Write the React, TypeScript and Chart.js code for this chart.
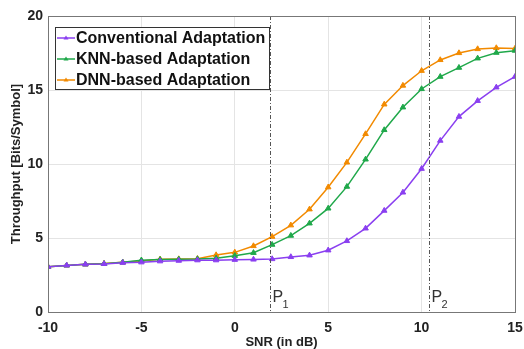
import React, { useEffect, useRef } from "react";
import { Chart, registerables } from "chart.js";

Chart.register(...registerables);

const snr = [-10, -9, -8, -7, -6, -5, -4, -3, -2, -1, 0, 1, 2, 3, 4, 5, 6, 7, 8, 9, 10, 11, 12, 13, 14, 15];
const conventional = [3.06, 3.15, 3.22, 3.25, 3.33, 3.36, 3.43, 3.47, 3.5, 3.5, 3.53, 3.55, 3.58, 3.72, 3.83, 4.17, 4.8, 5.65, 6.85, 8.08, 9.68, 11.58, 13.2, 14.27, 15.18, 15.9];
const knn = [3.06, 3.15, 3.22, 3.26, 3.36, 3.5, 3.54, 3.56, 3.58, 3.63, 3.8, 4.0, 4.55, 5.16, 5.99, 7.0, 8.47, 10.31, 12.3, 13.83, 15.07, 15.9, 16.51, 17.14, 17.52, 17.66];
const dnn = [3.06, 3.15, 3.22, 3.27, 3.36, 3.45, 3.56, 3.58, 3.6, 3.85, 4.03, 4.46, 5.09, 5.86, 6.94, 8.43, 10.11, 12.03, 14.03, 15.3, 16.3, 17.03, 17.5, 17.77, 17.84, 17.8];
const seriesNames = ["Conventional Adaptation", "KNN-based Adaptation", "DNN-based Adaptation"];
const seriesColors = ["#8A3FF0", "#1FA84A", "#F28A00"];
const markerX = [1.9, 10.4];
const markerLabels = ["1", "2"];
const xTicks = [-10, -5, 0, 5, 10, 15];
const yTicks = [0, 5, 10, 15, 20];

const FONT = "'Liberation Sans', Arial, Helvetica, sans-serif";

const overlayPlugin = {
  id: "overlay",
  afterDatasetsDraw(chart: any) {
    const ctx = chart.ctx;
    const xs = chart.scales.x;
    const area = chart.chartArea;
    // vertical dash-dot lines
    ctx.save();
    ctx.strokeStyle = "#555";
    ctx.lineWidth = 1;
    ctx.setLineDash([4, 2, 1, 2]);
    markerX.forEach((v, i) => {
      const px = Math.round(xs.getPixelForValue(v)) + 0.5;
      ctx.beginPath();
      ctx.moveTo(px, area.top);
      ctx.lineTo(px, area.bottom);
      ctx.stroke();
      ctx.fillStyle = "#333";
      ctx.font = `16px ${FONT}`;
      ctx.textBaseline = "alphabetic";
      ctx.textAlign = "left";
      ctx.fillText("P", px + 2, area.bottom - 10);
      ctx.font = `11px ${FONT}`;
      ctx.fillText(markerLabels[i], px + 12, area.bottom - 4);
    });
    ctx.restore();

    // legend
    ctx.save();
    const lx = 55, ly = 27, lw = 214, lh = 62;
    ctx.fillStyle = "#fff";
    ctx.fillRect(lx, ly, lw, lh);
    ctx.strokeStyle = "#333";
    ctx.lineWidth = 1;
    ctx.strokeRect(lx + 0.5, ly + 0.5, lw, lh);
    ctx.font = `bold 16px ${FONT}`;
    ctx.textBaseline = "middle";
    ctx.textAlign = "left";
    seriesNames.forEach((name, i) => {
      const cy = ly + 11 + i * 21;
      ctx.strokeStyle = seriesColors[i];
      ctx.lineWidth = 1.5;
      ctx.beginPath();
      ctx.moveTo(lx + 2, cy);
      ctx.lineTo(lx + 20, cy);
      ctx.stroke();
      ctx.fillStyle = seriesColors[i];
      ctx.beginPath();
      ctx.moveTo(lx + 11, cy - 2.5);
      ctx.lineTo(lx + 13.5, cy + 1.5);
      ctx.lineTo(lx + 8.5, cy + 1.5);
      ctx.closePath();
      ctx.fill();
      ctx.fillStyle = "#111";
      ctx.fillText(name, lx + 21, cy + 1);
    });
    ctx.restore();

    // frame
    ctx.save();
    ctx.strokeStyle = "#777";
    ctx.lineWidth = 1;
    ctx.strokeRect(Math.round(area.left) + 0.5, Math.round(area.top) + 0.5, Math.round(area.right - area.left), Math.round(area.bottom - area.top));
    ctx.restore();
  },
};

export default function App() {
  const ref = useRef<HTMLCanvasElement>(null);
  useEffect(() => {
    document.body.style.margin = "0";
    const mk = (data: number[], i: number) => ({
      label: seriesNames[i],
      data: snr.map((x, k) => ({ x, y: data[k] })),
      borderColor: seriesColors[i],
      backgroundColor: seriesColors[i],
      borderWidth: 1.5,
      pointStyle: "triangle",
      pointRadius: 3.2,
      pointBorderWidth: 1,
      tension: 0,
    });
    const chart = new Chart(ref.current!, {
      type: "line",
      data: { datasets: [mk(conventional, 0), mk(knn, 1), mk(dnn, 2)] as any },
      options: {
        responsive: false,
        animation: false,
        layout: { padding: { top: 16, right: 9, left: 0, bottom: 0 } },
        plugins: { legend: { display: false }, tooltip: { enabled: false } },
        scales: {
          x: {
            type: "linear",
            min: -10,
            max: 15,
            afterBuildTicks: (s: any) => { s.ticks = xTicks.map((v) => ({ value: v })); },
            afterFit: (s: any) => { s.height = 37; s.paddingLeft = 0; s.paddingRight = 0; },
            grid: { color: "#e4e4e4", drawTicks: false },
            border: { display: false },
            ticks: { color: "#222", font: { family: FONT, size: 14, weight: "bold" }, padding: 8, maxRotation: 0 },
            title: { display: true, text: "SNR (in dB)", color: "#222", font: { family: FONT, size: 13, weight: "bold" }, padding: { top: 0, bottom: -1 } },
          },
          y: {
            type: "linear",
            min: 0,
            max: 20,
            afterBuildTicks: (s: any) => { s.ticks = yTicks.map((v) => ({ value: v })); },
            afterFit: (s: any) => { s.width = 48; },
            grid: { color: "#e4e4e4", drawTicks: false },
            border: { display: false },
            ticks: { color: "#222", font: { family: FONT, size: 14, weight: "bold" }, padding: 5 },
            title: { display: true, text: "Throughput [Bits/Symbol]", color: "#222", font: { family: FONT, size: 13, weight: "bold" }, padding: { top: 9, bottom: 0 } },
          },
        },
      },
      plugins: [overlayPlugin],
    });
    return () => chart.destroy();
  }, []);
  return <canvas ref={ref} width={524} height={349} style={{ display: "block" }} />;
}
